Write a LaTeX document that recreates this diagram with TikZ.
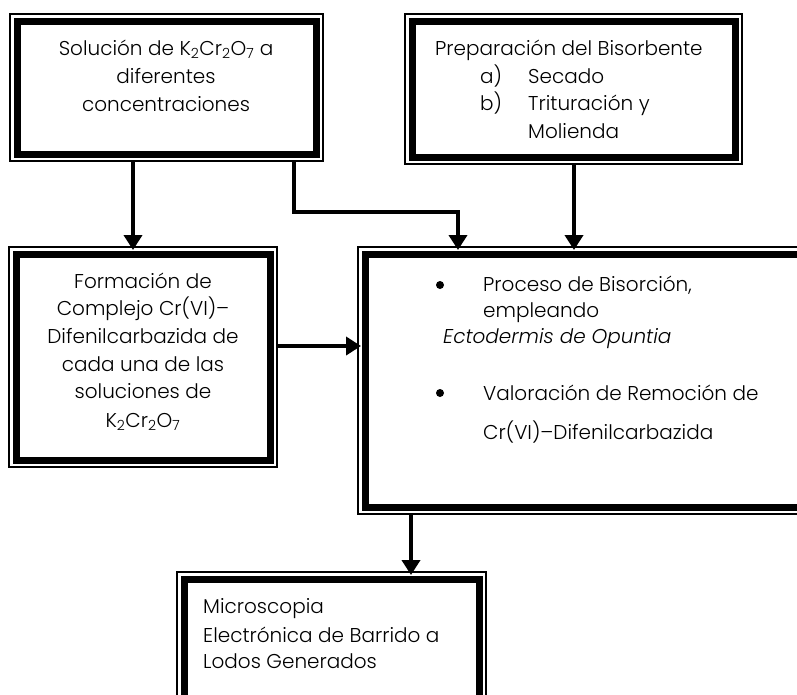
\documentclass[tikz,border=0pt]{standalone}
\usepackage{fontspec}
\setmainfont{Poppins Light}[ItalicFont={Poppins Light Italic}]
\usetikzlibrary{arrows.meta}
\tikzset{
  box/.style={draw, line width=7pt, inner sep=0pt, outer sep=7pt, fill=none},
  frame/.style={draw, line width=1.2pt},
  conn/.style={line width=4.5pt, -{Triangle[width=18pt,length=15pt]}, shorten >=-3pt},
  lbl/.style={inner sep=0pt, font=\fontsize{20}{28}\selectfont},
  cl/.style={lbl, anchor=base},
  ll/.style={lbl, anchor=base west},
  dot/.style={circle, fill, inner sep=0pt, minimum size=8pt},
}
\newcommand{\kdic}{K\textsubscript{2}Cr\textsubscript{2}O\textsubscript{7}}
\newcommand{\mkbox}[5]{%
  \draw[frame] (#2,#3) rectangle (#4,#5);
  \node[box, minimum width={(#4-#2-14)*1pt}, minimum height={(#5-#3-14)*1pt}] (#1) at ({(#2+#4)/2},{(#3+#5)/2}) {};
}
\begin{document}
\begin{tikzpicture}[x=1pt,y=-1pt]
\useasboundingbox (0,0) rectangle (797,694);
\clip (0,0) rectangle (797,694);
% boxes
\mkbox{b1}{10}{14}{323}{161}
\mkbox{b2}{405}{14}{742}{164}
\mkbox{b3}{9}{247}{277}{467}
\mkbox{b4}{358}{247}{820}{514}
\mkbox{b5}{177}{572}{486}{712}
% texts box 1
\node[cl] (t1a) at (166,55) {Solución de \kdic{} a};
\node[cl] (t1b) at (166,83) {diferentes};
\node[cl] (t1c) at (166,111) {concentraciones};
% box 2
\node[ll] (t2a) at (435,55) {Preparación del Bisorbente};
\node[ll] (t2b) at (480,83) {a)};
\node[ll] (t2c) at (528,83) {Secado};
\node[ll] (t2d) at (480,110) {b)};
\node[ll] (t2e) at (528,110) {Trituración y};
\node[ll] (t2f) at (528,138) {Molienda};
% box 3
\node[cl] (t3a) at (143,288) {Formación de};
\node[cl] (t3b) at (143,315) {Complejo Cr(VI)–};
\node[cl] (t3c) at (143,343) {Difenilcarbazida de};
\node[cl] (t3d) at (143,371) {cada una de las};
\node[cl] (t3e) at (143,398) {soluciones de};
\node[cl] (t3f) at (143,427) {\kdic};
% box 4
\node[dot] (t4a) at (440,285) {};
\node[ll] (t4b) at (483,291) {Proceso de Bisorción,};
\node[ll] (t4c) at (483,317) {empleando};
\node[ll] (t4d) at (443,343) {\itshape Ectodermis de Opuntia};
\node[dot] (t4e) at (440,393) {};
\node[ll] (t4f) at (483,400) {Valoración de Remoción de};
\node[ll] (t4g) at (483,439) {Cr(VI)–Difenilcarbazida};
% box 5
\node[ll] (t5a) at (203,613) {Microscopia};
\node[ll] (t5b) at (203,642) {Electrónica de Barrido a};
\node[ll] (t5c) at (203,668) {Lodos Generados};
% connectors
\draw[conn] (b1.south -| 133,0) -- (b3.north -| 133,0);
\draw[conn] (b1.south -| 294,0) |- (458,212) -- (b4.north -| 458,0);
\draw[conn] (b2.south -| 574,0) -- (b4.north -| 574,0);
\draw[conn] (b3.east |- 0,346) -- (b4.west |- 0,346);
\draw[conn] (b4.south -| 411,0) -- (b5.north -| 411,0);
\end{tikzpicture}
\end{document}
